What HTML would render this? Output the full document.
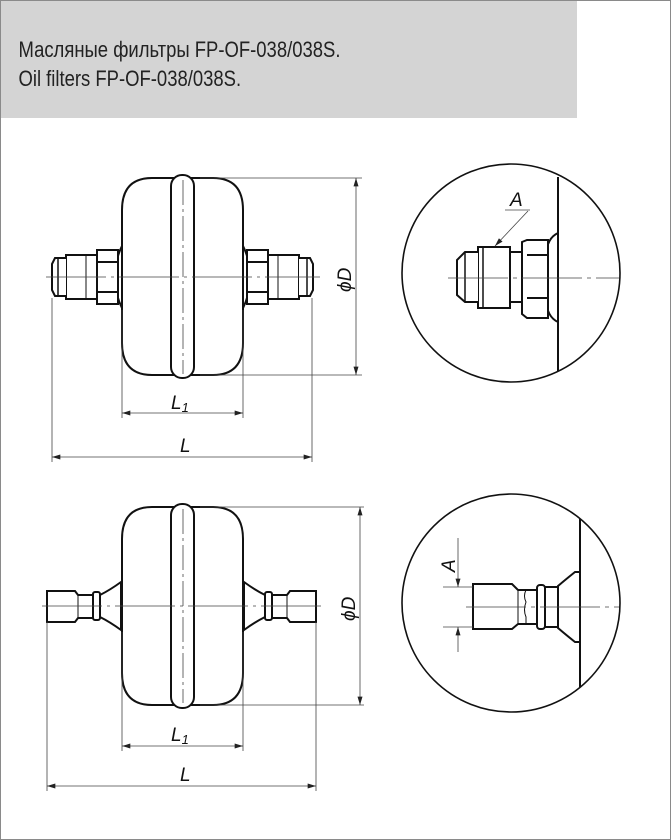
<!DOCTYPE html>
<html><head><meta charset="utf-8"><style>
html,body{margin:0;padding:0;background:#fff}
svg{display:block}
</style></head><body>
<svg width="671" height="840" viewBox="0 0 671 840" xmlns="http://www.w3.org/2000/svg" font-family="Liberation Sans, DejaVu Sans, sans-serif">
<rect x="0.5" y="0.5" width="670" height="839" fill="#fff" stroke="#8a8a8a"/>
<rect x="1" y="1" width="576" height="117" fill="#d4d4d4"/>
<g fill="#222" font-size="22" transform="scale(0.84,1)">
<text x="22" y="57">Масляные фильтры FP-OF-038/038S.</text>
<text x="22" y="86">Oil filters FP-OF-038/038S.</text>
</g>
<defs>
<marker id="ar" viewBox="0 0 10 6" refX="10" refY="3" markerWidth="14" markerHeight="5" orient="auto-start-reverse" markerUnits="userSpaceOnUse"><path d="M0,0 L10,3 L0,6 z" fill="#222"/></marker>
</defs>

<!-- TOP FILTER -->
<g stroke="#111" stroke-width="2" fill="#fff">
<path d="M152,178 H213 Q243,178 243,210 V343 Q243,375 213,375 H152 Q122,375 122,343 V210 Q122,178 152,178 Z"/>
<rect x="171" y="175" width="23" height="203" rx="11"/>
<path d="M122,246 Q114,262 116,277 Q114,292 122,308 Z"/>
<rect x="97" y="250" width="21" height="54"/>
<line x1="97" y1="262" x2="118" y2="262"/><line x1="97" y1="292" x2="118" y2="292"/>
<rect x="66" y="255" width="31" height="44"/>
<line x1="86" y1="255" x2="86" y2="299" stroke-width="1"/>
<path d="M66,258 H55 L52,264 V290 L55,296 H66"/>
<line x1="58" y1="258" x2="58" y2="296" stroke-width="1.5"/>
<path d="M243,246 Q251,262 249,277 Q251,292 243,308 Z"/>
<rect x="247" y="250" width="21" height="54"/>
<line x1="247" y1="262" x2="268" y2="262"/><line x1="247" y1="292" x2="268" y2="292"/>
<rect x="268" y="255" width="31" height="44"/>
<line x1="278" y1="255" x2="278" y2="299" stroke-width="1"/>
<path d="M299,258 H310 L313,264 V290 L310,296 H299"/>
<line x1="307" y1="258" x2="307" y2="296" stroke-width="1.5"/>
</g>
<g stroke="#444" stroke-width="0.8" fill="none">
<line x1="46" y1="277" x2="320" y2="277" stroke-dasharray="60,5,3,5"/>
<line x1="183" y1="180" x2="183" y2="374" stroke-dasharray="25,4,3,4"/>
<line x1="200" y1="178" x2="362" y2="178"/><line x1="200" y1="375" x2="362" y2="375"/>
<line x1="122" y1="310" x2="122" y2="418"/><line x1="243" y1="310" x2="243" y2="418"/>
<line x1="52" y1="298" x2="52" y2="462"/><line x1="312" y1="298" x2="312" y2="462"/>
<line x1="356" y1="178" x2="356" y2="375" marker-start="url(#ar)" marker-end="url(#ar)"/>
<line x1="122" y1="413" x2="243" y2="413" marker-start="url(#ar)" marker-end="url(#ar)"/>
<line x1="52" y1="457" x2="312" y2="457" marker-start="url(#ar)" marker-end="url(#ar)"/>
</g>
<g fill="#111" font-style="italic" font-size="19">
<text x="171" y="409">L<tspan font-size="13" dy="3">1</tspan></text>
<text x="180" y="452">L</text>
<text transform="translate(351,292) rotate(-90)">ϕD</text>
</g>

<!-- BOTTOM FILTER -->
<g stroke="#111" stroke-width="2" fill="#fff">
<path d="M152,507 H213 Q243,507 243,539 V673 Q243,705 213,705 H152 Q122,705 122,673 V539 Q122,507 152,507 Z"/>
<rect x="171" y="504" width="23" height="204" rx="11"/>
<path d="M121,582 Q110,590 100,595 V617 Q110,622 121,630 Z"/>
<rect x="93" y="592" width="7" height="28" rx="2"/>
<path d="M93,595 H78 L75,591 H47 V622 H75 L78,618 H93 Z"/>
<line x1="78" y1="595" x2="78" y2="618" stroke-width="1"/>
<path d="M244,582 Q255,590 265,595 V617 Q255,622 244,630 Z"/>
<rect x="265" y="592" width="7" height="28" rx="2"/>
<path d="M272,595 H287 L290,591 H316 V622 H290 L287,618 H272 Z"/>
<line x1="287" y1="595" x2="287" y2="618" stroke-width="1"/>
</g>
<g stroke="#444" stroke-width="0.8" fill="none">
<line x1="42" y1="606" x2="322" y2="606" stroke-dasharray="60,5,3,5"/>
<line x1="183" y1="509" x2="183" y2="703" stroke-dasharray="25,4,3,4"/>
<line x1="200" y1="507" x2="364" y2="507"/><line x1="200" y1="705" x2="364" y2="705"/>
<line x1="122" y1="632" x2="122" y2="751"/><line x1="243" y1="632" x2="243" y2="751"/>
<line x1="47" y1="622" x2="47" y2="791"/><line x1="316" y1="622" x2="316" y2="791"/>
<line x1="360" y1="507" x2="360" y2="705" marker-start="url(#ar)" marker-end="url(#ar)"/>
<line x1="122" y1="746" x2="243" y2="746" marker-start="url(#ar)" marker-end="url(#ar)"/>
<line x1="47" y1="786" x2="316" y2="786" marker-start="url(#ar)" marker-end="url(#ar)"/>
</g>
<g fill="#111" font-style="italic" font-size="19">
<text x="171" y="741">L<tspan font-size="13" dy="3">1</tspan></text>
<text x="180" y="781">L</text>
<text transform="translate(355,621) rotate(-90)">ϕD</text>
</g>

<!-- TOP DETAIL -->
<circle cx="511" cy="273" r="109" fill="none" stroke="#111" stroke-width="1.6"/>
<g stroke="#111" stroke-width="2" fill="#fff">
<path d="M558,233 Q547,238 546,255 Q550,278 546,300 Q547,317 558,322 Z"/>
<path d="M522,242 L527,240 H548 V318 H527 L522,314 Z"/>
<line x1="527" y1="255" x2="548" y2="255"/><line x1="527" y1="298" x2="548" y2="298"/>
<rect x="510" y="252" width="12" height="50"/>
<rect x="478" y="247" width="32" height="61"/>
<line x1="483" y1="247" x2="483" y2="308" stroke-width="1.5"/>
<path d="M478,252 H465 L457,260 V295 L465,302 H478"/>
<line x1="465" y1="252" x2="465" y2="302" stroke-width="1.5"/>
</g>
<line x1="558" y1="177" x2="558" y2="371" stroke="#111" stroke-width="2"/>
<g stroke="#444" stroke-width="0.8" fill="none">
<line x1="448" y1="278" x2="619" y2="278" stroke-dasharray="60,5,4,5"/>
<line x1="505" y1="210" x2="530" y2="210"/>
<line x1="528" y1="211" x2="495" y2="246" marker-end="url(#ar)"/>
</g>
<text x="510" y="206" font-size="19" font-style="italic" fill="#111">A</text>

<!-- BOTTOM DETAIL -->
<circle cx="511" cy="603" r="109" fill="none" stroke="#111" stroke-width="1.6"/>
<g stroke="#111" stroke-width="2" fill="#fff">
<path d="M580,572 L575,572 Q565,580 558,586 V628 Q565,634 575,642 L580,642 Z"/>
<rect x="545" y="587" width="13" height="40"/>
<rect x="537" y="585" width="8" height="44" rx="3"/>
<path d="M537,590 H518 L512,584 H473 V629 H512 L518,624 H537 Z"/>
<line x1="518" y1="590" x2="518" y2="624" stroke-width="1"/>
<path d="M526,590 Q523,596 526,602 Q523,610 526,617 V624" stroke-width="1" fill="none"/>
</g>
<line x1="580" y1="519" x2="580" y2="687" stroke="#111" stroke-width="2"/>
<g stroke="#444" stroke-width="0.8" fill="none">
<line x1="466" y1="607" x2="619" y2="607" stroke-dasharray="60,5,4,5"/>
<line x1="443" y1="587" x2="473" y2="587"/><line x1="443" y1="627" x2="473" y2="627"/>
<line x1="458" y1="538" x2="458" y2="587" marker-end="url(#ar)"/>
<line x1="458" y1="652" x2="458" y2="627" marker-end="url(#ar)"/>
</g>
<text transform="translate(455,572) rotate(-90)" font-size="19" font-style="italic" fill="#111">A</text>
</svg>
</body></html>
